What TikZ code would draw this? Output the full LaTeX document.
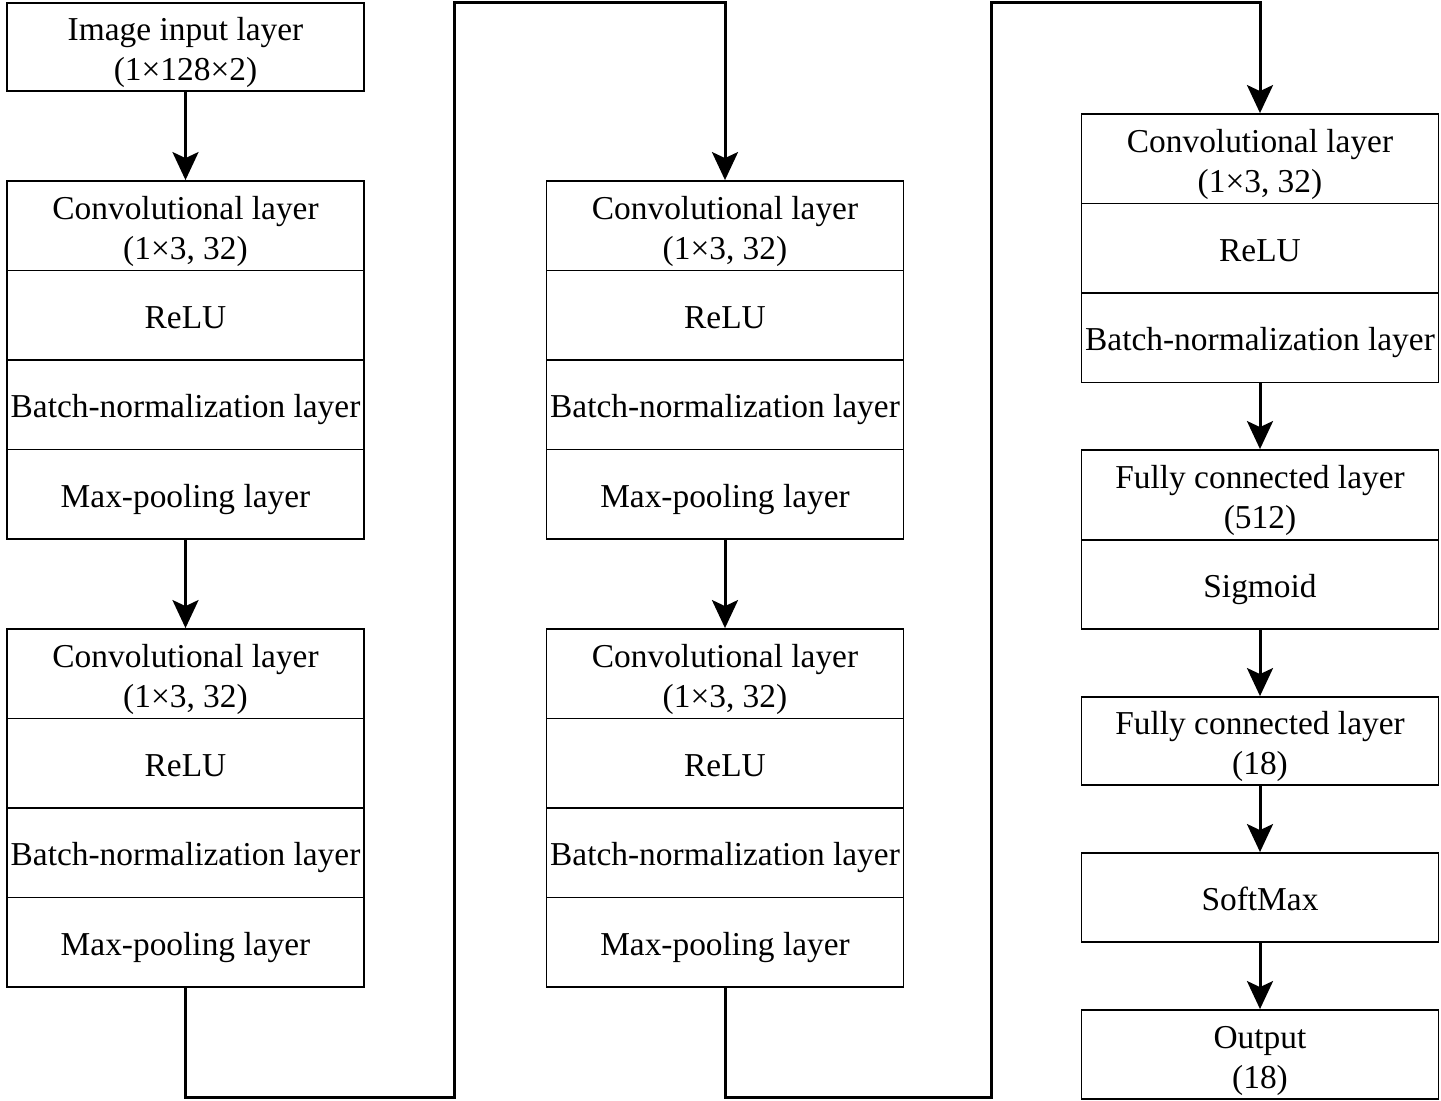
\documentclass[tikz,border=0pt]{standalone}
\usepackage{fontspec}
\setmainfont{Liberation Serif}
\usetikzlibrary{arrows.meta}

% strut that lowers two-line cell texts a little
\newcommand{\topstrut}{\rule{0pt}{17.5pt}}

\begin{document}
\begin{tikzpicture}[x=0.5pt,y=-0.5pt,
  cell/.style={draw=black, line width=0.9pt, fill=white, inner sep=0pt,
    minimum width=178.5pt, minimum height=44.75pt, align=center,
    font=\fontsize{16.7}{20}\selectfont},
  onel/.style={cell, text height=13pt, text depth=0pt},
  twol/.style={cell},
  conn/.style={draw=black, line width=1.5pt, line join=miter},
  flow/.style={conn, -{Stealth[length=14pt,width=13pt,inset=3pt]}}]
\useasboundingbox (0,0) rectangle (1441,1101);

% first column
\node[twol, minimum height=44pt] (inp) at (185.5,47) {\topstrut Image input layer\\(1×128×2)};
\node[twol] (a1) at (185.5,225.75) {\topstrut Convolutional layer\\(1×3, 32)};
\node[onel] (a2) at (185.5,315.25) {ReLU};
\node[onel] (a3) at (185.5,404.75) {Batch-normalization layer};
\node[onel] (a4) at (185.5,494.25) {Max-pooling layer};
\node[twol] (b1) at (185.5,673.75) {\topstrut Convolutional layer\\(1×3, 32)};
\node[onel] (b2) at (185.5,763.25) {ReLU};
\node[onel] (b3) at (185.5,852.75) {Batch-normalization layer};
\node[onel] (b4) at (185.5,942.25) {Max-pooling layer};

% second column
\node[twol] (c1) at (725,225.75) {\topstrut Convolutional layer\\(1×3, 32)};
\node[onel] (c2) at (725,315.25) {ReLU};
\node[onel] (c3) at (725,404.75) {Batch-normalization layer};
\node[onel] (c4) at (725,494.25) {Max-pooling layer};
\node[twol] (d1) at (725,673.75) {\topstrut Convolutional layer\\(1×3, 32)};
\node[onel] (d2) at (725,763.25) {ReLU};
\node[onel] (d3) at (725,852.75) {Batch-normalization layer};
\node[onel] (d4) at (725,942.25) {Max-pooling layer};

% third column
\node[twol] (e1) at (1260,158.75) {\topstrut Convolutional layer\\(1×3, 32)};
\node[onel] (e2) at (1260,248.25) {ReLU};
\node[onel] (e3) at (1260,337.75) {Batch-normalization layer};
\node[twol, minimum height=45pt] (f1) at (1260,495) {\topstrut Fully connected layer\\(512)};
\node[onel, minimum height=44.5pt] (f2) at (1260,584.5) {Sigmoid};
\node[twol, minimum height=44pt] (g) at (1260,741) {\topstrut Fully connected layer\\(18)};
\node[onel, minimum height=44.5pt] (sm) at (1260,897.5) {SoftMax};
\node[twol, minimum height=44.5pt] (out) at (1260,1054.5) {\topstrut Output\\(18)};

% bends of the long connectors
\coordinate (p1) at (454,1097);
\coordinate (p2) at (454,3);
\coordinate (q1) at (991,1097);
\coordinate (q2) at (991,3);

% connectors
\draw[flow] (inp.south) -- (a1.north);
\draw[flow] (a4.south) -- (b1.north);
\draw[flow] (b4.south) |- (p1) -- (p2) -| (c1.north);
\draw[flow] (c4.south) -- (d1.north);
\draw[flow] (d4.south) |- (q1) -- (q2) -| (e1.north);
\draw[flow] (e3.south) -- (f1.north);
\draw[flow] (f2.south) -- (g.north);
\draw[flow] (g.south) -- (sm.north);
\draw[flow] (sm.south) -- (out.north);
\end{tikzpicture}
\end{document}
